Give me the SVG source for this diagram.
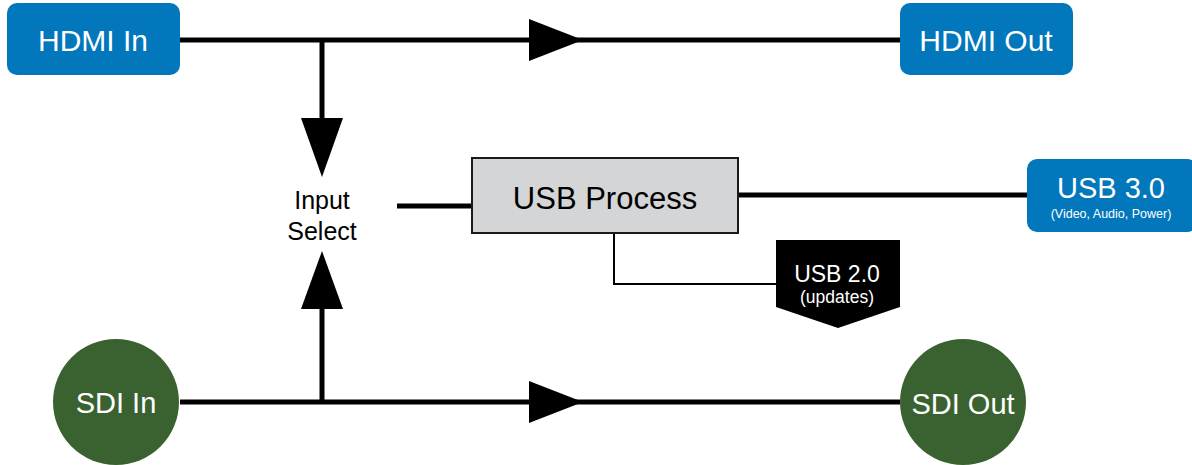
<svg xmlns="http://www.w3.org/2000/svg" width="1192" height="465" viewBox="0 0 1192 465">
<style>
.blue{fill:#0277bb}
.green{fill:#3a6230}
.wt{fill:#ffffff;font-family:"Liberation Sans",Arial,sans-serif;text-anchor:middle}
.bt{fill:#000000;font-family:"Liberation Sans",Arial,sans-serif;text-anchor:middle}
.ln{stroke:#000;stroke-width:5;fill:none}
.thin{stroke:#000;stroke-width:2;fill:none}
.ah{fill:#000}
</style>
<rect width="1192" height="465" fill="#ffffff"/>
<g id="connectors">
<line class="ln" x1="180" y1="40" x2="900" y2="40"/>
<polygon class="ah" points="529,19 583,40 529,61"/>
<line class="ln" x1="322" y1="38" x2="322" y2="120"/>
<polygon class="ah" points="301,118 343,118 322,177"/>
<line class="ln" x1="180" y1="402" x2="900" y2="402"/>
<polygon class="ah" points="529,381 583,402 529,423"/>
<line class="ln" x1="322" y1="404" x2="322" y2="307"/>
<polygon class="ah" points="301,309 343,309 322,251"/>
<line class="ln" x1="397" y1="206" x2="472" y2="206"/>
<line class="ln" x1="738" y1="195" x2="1027" y2="195"/>
<polyline class="thin" points="614,233 614,284 776,284"/>
</g>
<g id="hdmi-in">
<rect class="blue" x="7" y="3" width="173" height="72" rx="10"/>
<text class="wt" x="93" y="51" font-size="30">HDMI In</text>
</g>
<g id="hdmi-out">
<rect class="blue" x="900" y="3" width="173" height="72" rx="10"/>
<text class="wt" x="986" y="51" font-size="30">HDMI Out</text>
</g>
<g id="input-select">
<text class="bt" x="322" y="209" font-size="25">Input</text>
<text class="bt" x="322" y="240" font-size="25">Select</text>
</g>
<g id="usb-process">
<rect x="472" y="158" width="266" height="75" fill="#d4d5d6" stroke="#1a1a1a" stroke-width="2"/>
<text class="bt" x="605" y="209" font-size="31">USB Process</text>
</g>
<g id="usb-3">
<rect class="blue" x="1027" y="159" width="170" height="73" rx="10"/>
<text class="wt" x="1111" y="198" font-size="29">USB 3.0</text>
<text class="wt" x="1111" y="218" font-size="12.5">(Video, Audio, Power)</text>
</g>
<g id="usb-2">
<polygon points="776,240 900,240 900,307 838,328 776,307" fill="#000"/>
<text class="wt" x="837" y="282" font-size="23">USB 2.0</text>
<text class="wt" x="837" y="303" font-size="17.5">(updates)</text>
</g>
<g id="sdi-in">
<circle class="green" cx="116" cy="402" r="63"/>
<text class="wt" x="116" y="413" font-size="29">SDI In</text>
</g>
<g id="sdi-out">
<circle class="green" cx="963" cy="402" r="63"/>
<text class="wt" x="963" y="414" font-size="29">SDI Out</text>
</g>
</svg>
